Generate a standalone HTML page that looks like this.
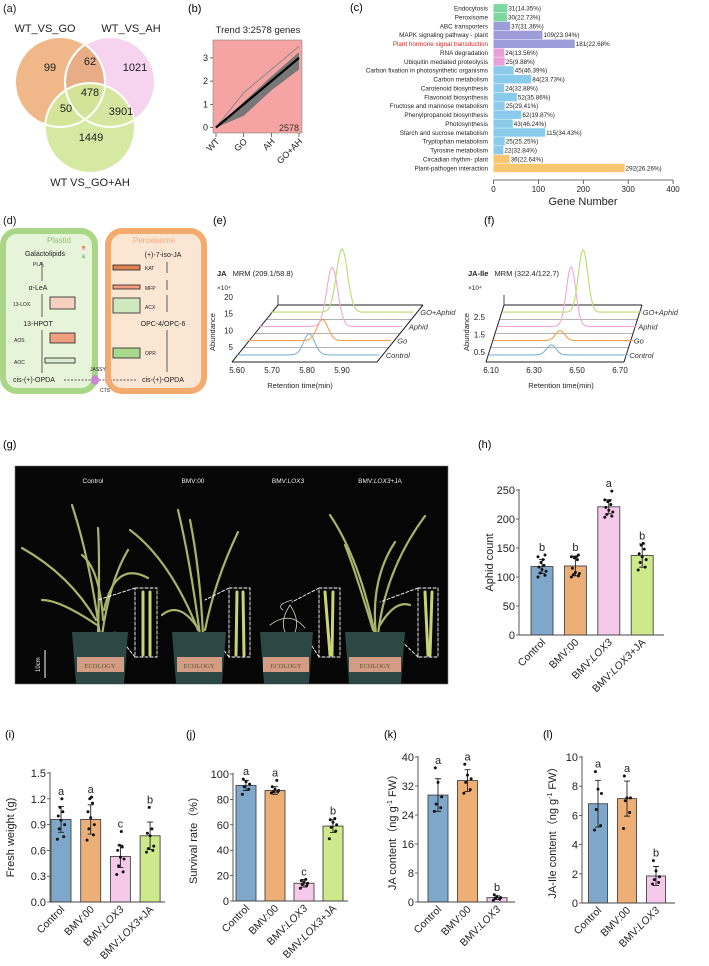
<!DOCTYPE html>
<html><head><meta charset="utf-8"><style>
html,body{margin:0;padding:0;background:#fff;}
svg{display:block;font-family:"Liberation Sans",Arial,sans-serif;}
</style></head><body>
<svg id="fig" width="709" height="966" viewBox="0 0 709 966" xmlns="http://www.w3.org/2000/svg">
<!-- (a) Venn -->
<g font-size="11" fill="#222">
<text x="3" y="12">(a)</text>
<circle cx="60" cy="82" r="45" fill="#f0b788"/>
<circle cx="110" cy="82" r="45" fill="#f4cdec" fill-opacity="0.85" stroke="#fff" stroke-width="2"/>
<path d="M85,44.6 A45,45 0 0 1 85,119.4 A45,45 0 0 1 85,44.6Z" fill="#e7ad86" stroke="#fff" stroke-width="2"/>
<circle cx="90" cy="128" r="45" fill="#d2e79a" fill-opacity="0.92" stroke="#fff" stroke-width="2"/>
<circle cx="60" cy="82" r="45" fill="none" stroke="#fff" stroke-width="2"/>
<circle cx="110" cy="82" r="45" fill="none" stroke="#fff" stroke-width="2"/>
<text x="50" y="71" text-anchor="middle">99</text>
<text x="90" y="65" text-anchor="middle">62</text>
<text x="135" y="71" text-anchor="middle">1021</text>
<text x="90" y="96" text-anchor="middle">478</text>
<text x="66" y="112" text-anchor="middle">50</text>
<text x="121" y="115" text-anchor="middle">3901</text>
<text x="91" y="141" text-anchor="middle">1449</text>
<text x="45" y="32" text-anchor="middle">WT_VS_GO</text>
<text x="131" y="32" text-anchor="middle">WT_VS_AH</text>
<text x="90" y="186" text-anchor="middle">WT VS_GO+AH</text>
</g>
<text x="188" y="12" font-size="11">(b)</text>
<text x="350" y="11" font-size="11">(c)</text>

<!-- (d) pathway -->
<g font-size="6.5" fill="#222">
<text x="3" y="224" font-size="11">(d)</text>
<rect x="3" y="231" width="92" height="160" rx="14" fill="#e6f4da" stroke="#a9d786" stroke-width="6"/>
<rect x="108" y="231" width="96" height="160" rx="14" fill="#fbe5d3" stroke="#f2ab6c" stroke-width="6"/>
<text x="59" y="243" font-size="8" fill="#8cc46a" text-anchor="middle">Plastid</text>
<text x="154" y="243" font-size="8" fill="#f5a878" text-anchor="middle">Peroxisome</text>
<rect x="82" y="246" width="3" height="12" fill="url(#lg)"/>
<defs><linearGradient id="lg" x1="0" y1="0" x2="0" y2="1"><stop offset="0" stop-color="#e8704a"/><stop offset="0.5" stop-color="#fff"/><stop offset="1" stop-color="#7cc26a"/></linearGradient></defs>
<text x="45" y="256" font-size="7" text-anchor="middle">Galactolipids</text>
<text x="33" y="266" font-size="5">PLA₁</text>
<text x="38" y="290" font-size="7" text-anchor="middle">α-LeA</text>
<text x="13" y="306" font-size="5">13-LOX</text>
<text x="38" y="326" font-size="7" text-anchor="middle">13-HPOT</text>
<text x="14" y="342" font-size="5">AOS</text>
<text x="14" y="364" font-size="5">AOC</text>
<text x="34" y="382" font-size="7" text-anchor="middle">cis-(+)-OPDA</text>
<text x="163" y="257" font-size="7" text-anchor="middle">(+)-7-iso-JA</text>
<text x="145" y="270" font-size="5">KAT</text>
<text x="145" y="290" font-size="5">MFP</text>
<text x="145" y="309" font-size="5">ACX</text>
<text x="163" y="326" font-size="7" text-anchor="middle">OPC-4/OPC-6</text>
<text x="145" y="355" font-size="5">OPR</text>
<text x="163" y="382" font-size="7" text-anchor="middle">cis-(+)-OPDA</text>
<text x="90" y="371" font-size="5">JASSY</text>
<text x="100" y="392" font-size="5">CTS</text>
<g stroke="#222" stroke-width="0.7">
<line x1="42" y1="262" x2="42" y2="281"/><line x1="42" y1="294" x2="42" y2="317"/><line x1="42" y1="330" x2="42" y2="373"/>
<line x1="167" y1="312" x2="167" y2="295"/><line x1="167" y1="290" x2="167" y2="280"/><line x1="167" y1="273" x2="167" y2="262"/><line x1="167" y1="372" x2="167" y2="330"/>
<line x1="64" y1="380" x2="136" y2="380" stroke-dasharray="2,1.5"/>
</g>
<ellipse cx="95" cy="380" rx="4" ry="5" fill="#c987d8"/>
<ellipse cx="108" cy="380" rx="3" ry="5" fill="#f3a97a"/>
<g stroke="#222" stroke-width="0.8">
<rect x="50" y="297" width="25" height="12" fill="#f6d0c0"/>
<rect x="50" y="333" width="25" height="10" fill="#ee9f82"/>
<rect x="45" y="358" width="30" height="5" fill="#d9ecd0"/>
<rect x="113" y="265" width="27" height="5" fill="#e08050"/>
<rect x="113" y="285" width="27" height="4" fill="#f0a080"/>
<rect x="113" y="298" width="27" height="15" fill="#cfe8c0"/>
<rect x="113" y="348" width="27" height="10" fill="#a9d88f"/>
</g>
</g>

<text x="213" y="224" font-size="11">(e)</text>
<text x="484" y="224" font-size="11">(f)</text>
<text x="3" y="448" font-size="11">(g)</text>
<text x="478" y="448" font-size="11">(h)</text>
<text x="5" y="738" font-size="11">(i)</text>
<text x="186" y="738" font-size="11">(j)</text>
<text x="384" y="738" font-size="11">(k)</text>
<text x="543" y="738" font-size="11">(l)</text>

<!-- (g) photo -->
<g>
<rect x="15" y="466" width="433" height="218" fill="#060606" stroke="#777" stroke-width="0.6"/>
<g font-size="6.5" fill="#eee" text-anchor="middle">
<text x="93" y="483">Control</text>
<text x="193" y="483">BMV:00</text>
<text x="288" y="483">BMV:<tspan font-style="italic">LOX3</tspan></text>
<text x="380" y="483">BMV:<tspan font-style="italic">LOX3</tspan>+JA</text>
</g>
<g fill="none" stroke-linecap="round">
<g stroke="#a9b46a" stroke-width="2.2">
<path d="M100,635 Q90,560 72,505"/><path d="M98,635 Q100,560 98,528"/><path d="M102,635 Q110,580 128,550"/><path d="M96,620 Q70,575 22,548"/><path d="M104,610 Q115,560 148,578"/><path d="M97,625 Q60,600 42,600"/><path d="M103,620 Q100,570 82,555"/>
<path d="M200,635 Q190,560 178,510"/><path d="M203,635 Q200,570 190,520"/><path d="M198,630 Q170,560 130,530"/><path d="M205,630 Q215,580 238,532"/><path d="M199,630 Q180,600 162,615"/>
<path d="M375,635 Q360,560 330,515"/><path d="M378,635 Q385,570 425,516"/><path d="M373,630 Q355,570 345,545"/><path d="M380,625 Q395,600 410,605"/><path d="M376,635 Q370,580 395,542"/>
</g>
<g stroke="#c8c7b4" stroke-width="0.9"><path d="M285,632 Q280,620 290,605 Q300,620 295,632"/><path d="M270,625 Q290,610 305,628"/><path d="M283,610 Q275,605 292,600"/></g>
<g stroke="#fff" stroke-width="0.9" stroke-dasharray="3,2">
<rect x="135" y="588" width="22" height="69"/><rect x="229" y="588" width="21" height="69"/><rect x="319" y="588" width="21" height="69"/><rect x="418" y="588" width="20" height="69"/>
<path d="M135,588 L98,600 M135,657 L115,632"/><path d="M229,588 L205,600 M229,657 L212,635"/><path d="M319,588 L292,602 M319,657 L305,635"/><path d="M418,588 L380,602 M418,657 L395,635"/>
</g>
<g stroke="#c9d476" stroke-width="3"><path d="M143,592 L143,655"/><path d="M150,592 L150,655"/><path d="M237,592 L236,655"/><path d="M243,592 L244,655"/><path d="M325,592 L330,655"/><path d="M333,592 L332,655"/><path d="M425,592 L428,655"/><path d="M432,592 L430,655"/></g>
</g>
<g fill="#2c4744">
<path d="M72,632 L128,632 L124,684 L76,684Z"/><path d="M172,632 L226,632 L222,684 L176,684Z"/><path d="M260,632 L313,632 L309,684 L264,684Z"/><path d="M345,632 L405,632 L401,684 L349,684Z"/>
</g>
<g fill="#d59c84"><rect x="77" y="657" width="47" height="15"/><rect x="177" y="657" width="45" height="15"/><rect x="263" y="657" width="46" height="15"/><rect x="349" y="657" width="52" height="15"/></g>
<g font-size="6.5" fill="#553" text-anchor="middle" font-family="Liberation Serif, serif"><text x="100" y="668">ECOLOGY</text><text x="199" y="668">ECOLOGY</text><text x="286" y="668">ECOLOGY</text><text x="375" y="668">ECOLOGY</text></g>
<line x1="45" y1="650" x2="45" y2="678" stroke="#fff" stroke-width="1"/>
<text transform="translate(40,672) rotate(-90)" font-size="6" fill="#fff">10cm</text>
</g>
</svg>
<script>
// ---------- data ----------
const bCats=['WT','GO','AH','GO+AH'];
const bMean=[0,1,2,3];
const bUpperLine=[0,1.5,2.5,3.5];
const bBandLow=[0,0.5,1.6,2.5];
const bBandHigh=[0,1.1,2.2,3.25];
const bTicks=[0,1,2,3];

const cCats=['Endocytosis','Peroxisome','ABC transporters','MAPK signaling pathway - plant','Plant hormone signal transduction','RNA degradation','Ubiquitin mediated proteolysis','Carbon fixation in photosynthetic organisms','Carbon metabolism','Carotenoid biosynthesis','Flavonoid biosynthesis','Fructose and mannose metabolism','Phenylpropanoid biosynthesis','Photosynthesis','Starch and sucrose metabolism','Tryptophan metabolism','Tyrosine metabolism','Circadian rhythm- plant','Plant-pathogen interaction'];
const cVals=[31,30,37,109,181,24,25,45,84,24,52,25,62,43,115,25,22,36,292];
const cPct=['(14.35%)','(22.73%)','(31.36%)','(23.04%)','(22.68%','(13.56%)','(9.88%)','(46.39%)','(23.73%)','(32.88%)','(35.86%)','(29.41%)','(19.87%)','(46.24%)','(34.43%)','(25.25%)','(32.84%)','(22.64%)','(26.26%)'];
const cGroup=[0,0,1,1,1,2,2,3,3,3,3,3,3,3,3,3,3,4,4];
const cTicks=[0,100,200,300,400];

const eSeries=['Control','Go','Aphid','GO+Aphid'];
const ePeakTime=[5.79,5.795,5.79,5.785];
const ePeakHeight=[6.3,6.3,17.7,19];
const eTicks=[5.60,5.70,5.80,5.90];
const eYTicks=[5,10,15,20];
const fPeakTime=[6.37,6.39,6.42,6.455];
const fPeakHeight=[0.57,0.57,3.4,3.55];
const fTicks=[6.10,6.30,6.50,6.70];
const fYTicks=[0.5,1.5,2.5];

const cats4=['Control','BMV:00','BMV:LOX3','BMV:LOX3+JA'];
const cats3=['Control','BMV:00','BMV:LOX3'];
const hVals=[118,119,221,137];
const hErr=[12,17,12,20];
const hLetters=['b','b','a','b'];
const hDots=[[100,103,107,110,113,117,120,125,130,135,138],[100,102,104,106,108,115,130,133,135,135,138],[203,205,208,212,215,220,225,230,232,233,248],[112,117,125,130,135,140,148,155,158]];
const hTicks=[0,50,100,150,200,250];
const iVals=[0.96,0.96,0.53,0.77];
const iErr=[0.15,0.17,0.13,0.16];
const iLetters=['a','a','c','b'];
const iDots=[[0.73,0.76,0.85,0.9,0.95,1.0,1.05,1.1,1.2],[0.72,0.78,0.85,0.9,0.98,1.05,1.15,1.2,1.22],[0.32,0.35,0.42,0.5,0.52,0.6,0.64,0.66,0.82],[0.58,0.6,0.62,0.65,0.77,0.8,0.85,1.1]];
const iTicks=[0,0.3,0.6,0.9,1.2,1.5];
const jVals=[91,87,14,59];
const jErr=[4,3,3,5];
const jLetters=['a','a','c','b'];
const jDots=[[84,88,90,92,94,96],[85,86,86,87,88,90,95],[10,12,13,14,15,16,17],[49,55,58,60,62,64,65]];
const jTicks=[0,20,40,60,80,100];
const kVals=[29.5,33.5,1.2];
const kErr=[4.5,3,0.5];
const kLetters=['a','a','b'];
const kDots=[[25,26,27,29,33,37],[30,31,33,34,35,38],[0.5,0.8,1.0,1.2,1.5,2]];
const kTicks=[0,8,16,24,32,40];
const lVals=[6.8,7.15,1.85];
const lErr=[1.6,1.2,0.65];
const lLetters=['a','a','b'];
const lDots=[[5.0,5.3,6.4,7.5,7.8,9.0],[5.1,6.2,7.0,7.2,7.2,8.7],[1.3,1.4,1.6,1.8,2.2,2.9]];
const lTicks=[0,2,4,6,8,10];

// ---------- helpers ----------
const NS='http://www.w3.org/2000/svg';
const svg=document.getElementById('fig');
function mk(tag,attrs,parent,text){const e=document.createElementNS(NS,tag);for(const k in attrs)e.setAttribute(k,attrs[k]);if(text!==undefined)e.textContent=text;(parent||svg).appendChild(e);return e;}
function catLabel(el,name){const m=name.match(/^(BMV:)(LOX3)(.*)$/);if(!m){el.textContent=name;return;}mk('tspan',{},el,m[1]);mk('tspan',{'font-style':'italic'},el,m[2]);if(m[3])mk('tspan',{},el,m[3]);}

// ---------- (b) trend ----------
(function(){
  const g=mk('g',{});
  
  
  const L=213,R=302,T=40,B=133;
  const xs=i=>216+i*(299-216)/(bCats.length-1);
  const ys=v=>127.5-v*23.2;
  const bg=mk('rect',{x:L,y:T,width:R-L,height:B-T,fill:'#f5a3a3',stroke:'#888','stroke-width':0.6},g);
  
  
  const tt=mk('text',{x:258,y:33,'font-size':9.5,'text-anchor':'middle',fill:'#222'},g,'Trend 3:2578 genes');
  
  
  let band='';bBandHigh.forEach((v,i)=>band+=(i?'L':'M')+xs(i)+','+ys(v));
  for(let i=bBandLow.length-1;i>=0;i--)band+='L'+xs(i)+','+ys(bBandLow[i]);
  const bd=mk('path',{d:band+'Z',fill:'#777'},g);
  
  
  const ul=mk('polyline',{points:bUpperLine.map((v,i)=>xs(i)+','+ys(v)).join(' '),fill:'none',stroke:'#888','stroke-width':1},g);
  
  
  const ml=mk('polyline',{points:bMean.map((v,i)=>xs(i)+','+ys(v)).join(' '),fill:'none',stroke:'#000','stroke-width':2.2},g);
  
  
  const cnt=mk('text',{x:299,y:131,'font-size':9,'text-anchor':'end',fill:'#333'},g,'2578');
  
  
  bTicks.forEach(v=>{mk('line',{x1:L-3,x2:L,y1:ys(v),y2:ys(v),stroke:'#333','stroke-width':0.7},g);
    const t=mk('text',{x:L-5,y:ys(v)+3,'font-size':9,'text-anchor':'end',fill:'#222'},g,String(v));
    
    });
  bCats.forEach((c,i)=>{mk('line',{x1:xs(i),x2:xs(i),y1:B,y2:B+4,stroke:'#333','stroke-width':0.7},g);
    const t=mk('text',{transform:`translate(${xs(i)+4},${B+9}) rotate(-45)`,'font-size':9,'text-anchor':'end',fill:'#222'},g,c);
    
    });
})();

// ---------- (c) KEGG bars ----------
(function(){
  const cols=['#7fd7a0','#9d9ddc','#e8a0dc','#8acbeb','#f8c66e'];
  const g=mk('g',{});
  
  
  const x0=493.5,xs=v=>x0+v*0.449;
  const yr=i=>8.3+i*8.87;
  cCats.forEach((c,i)=>{
    const r=mk('rect',{x:x0,y:yr(i)-4.2,width:xs(cVals[i])-x0,height:8.4,fill:cols[cGroup[i]]},g);
    
    
    const lb=mk('text',{x:488,y:yr(i)+2.3,'font-size':6.3,'text-anchor':'end',fill:i===4?'#e02020':'#222'},g,c);
    
    
    const vl=mk('text',{x:xs(cVals[i])+1,y:yr(i)+2.3,'font-size':6.3,fill:'#222'},g,cVals[i]+cPct[i]);
    
    
  });
  mk('line',{x1:x0,x2:xs(400),y1:180,y2:180,stroke:'#444','stroke-width':0.8},g);
  cTicks.forEach(v=>{mk('line',{x1:xs(v),x2:xs(v),y1:180,y2:184,stroke:'#444','stroke-width':0.8},g);
    const t=mk('text',{x:xs(v),y:192,'font-size':8,'text-anchor':'middle',fill:'#222'},g,String(v));
    
    });
  const at=mk('text',{x:583,y:205,'font-size':11,'text-anchor':'middle',fill:'#222'},g,'Gene Number');
  
  
})();

// ---------- (e)/(f) chromatograms ----------
function chrom(p){
  const cols=['#7fb3d5','#f0a050','#f2a8d2','#b9dc72'];
  const g=mk('g',{});
  
  
  const fx=t=>p.fx0+(t-p.t0)*p.pxPerMin; // front x
  const depth=(f)=>({dx:f*p.skewX,dy:-f*p.skewY});
  // grid lines / floor
  [0,0.25,0.5,0.75,1].forEach(f=>{const d=depth(f);
    mk('line',{x1:p.fx0-5+d.dx,x2:p.fxEnd+d.dx,y1:p.fy+d.dy,y2:p.fy+d.dy,stroke:f===0||f===1?'#222':'#666','stroke-width':f===0||f===1?1:0.6},g);});
  const d1=depth(1);
  mk('line',{x1:p.fx0-5,y1:p.fy,x2:p.fx0-5+d1.dx,y2:p.fy+d1.dy,stroke:'#222','stroke-width':1},g);
  mk('line',{x1:p.fxEnd,y1:p.fy,x2:p.fxEnd+d1.dx,y2:p.fy+d1.dy,stroke:'#222','stroke-width':1},g);
  mk('line',{x1:p.fx0-5+d1.dx,y1:p.fy+d1.dy,x2:p.fx0-5+d1.dx,y2:p.fy+d1.dy-10,stroke:'#222','stroke-width':0.8},g);
  eSeries.forEach((s,i)=>{
    const d=depth((i+0.5)/4);
    let pts=[];
    for(let t=p.t0-0.02;t<=p.tEnd;t+=0.002){
      const v=p.heights[i]*Math.exp(-Math.pow((t-p.peaks[i])/p.sigma,2)/2);
      pts.push((fx(t)+d.dx).toFixed(1)+','+(p.fy+d.dy-v*p.pxPerUnit).toFixed(1));
    }
    const pl=mk('polyline',{points:pts.join(' '),fill:'none',stroke:cols[i],'stroke-width':1.1},g);
    
    
    const lb=mk('text',{x:p.fxEnd+d.dx+3,y:p.fy+d.dy+3,'font-size':7.5,'font-style':'italic',fill:'#333'},g,s);
    
    
  });
  p.xticks.forEach(t=>{const tx=mk('text',{x:fx(t),y:p.fy+11,'font-size':8,'text-anchor':'middle',fill:'#222'},g,t.toFixed(2));
    
    });
  p.yticks.forEach(v=>{const yy=p.yTick0-(v-p.yticks[0])*p.yTickPx;const tx=mk('text',{x:p.yTickX,y:yy+3,'font-size':8,'text-anchor':'end',fill:'#222'},g,String(v));
    
    });
  const xt=mk('text',{x:p.xTitleX,y:p.fy+26,'font-size':7.5,'text-anchor':'middle',fill:'#222'},g,'Retention time(min)');
  
  
  const yt=mk('text',{transform:`translate(${p.yTitleX},${p.fy-30}) rotate(-90)`,'font-size':7.5,'text-anchor':'middle',fill:'#222'},g,'Abundance');
  
  
  const tt=mk('text',{x:p.titleX,y:276,'font-size':7.5,fill:'#222'},g);
  mk('tspan',{'font-weight':'bold'},tt,p.compound);
  mk('tspan',{dx:6},tt,p.mrm);
  
  
  const ex=mk('text',{x:p.titleX,y:290,'font-size':6.5,fill:'#222'},g,'×10⁴');
  
  
}
chrom({name:'ja-chromatogram',t0:5.60,tEnd:5.99,fx0:237,fxEnd:377,pxPerMin:350,fy:362,skewX:46,skewY:57,peaks:ePeakTime,heights:ePeakHeight,sigma:0.016,pxPerUnit:3.33,xticks:eTicks,yticks:eYTicks,yTick0:347,yTickPx:3.33,yTickX:233,xTitleX:300,yTitleX:215,titleX:217,compound:'JA',mrm:'MRM (209.1/58.8)'});
chrom({name:'ja-ile-chromatogram',t0:6.10,tEnd:6.73,fx0:491,fxEnd:624,pxPerMin:215,fy:362,skewX:18,skewY:57,peaks:fPeakTime,heights:fPeakHeight,sigma:0.022,pxPerUnit:17.5,xticks:fTicks,yticks:fYTicks,yTick0:352,yTickPx:17.5,yTickX:485,xTitleX:561,yTitleX:469,titleX:468,compound:'JA-Ile',mrm:'MRM (322.4/122.7)'});

// ---------- bar charts ----------
const barCols=['#7fa7c9','#eeaf76','#f5c9ea','#cde98c'];
const jit=[-4,3,-2,4,0,-3,2,-1,1,-4,3];
function barChart(p){
  const g=mk('g',{});
  
  
  const ys=v=>p.y0-(v/p.vmax)*(p.y0-p.y1);
  p.cats.forEach((c,i)=>{
    const cx=p.c0+i*p.step;
    const r=mk('rect',{x:cx-p.w/2,y:ys(p.vals[i]),width:p.w,height:p.y0-ys(p.vals[i]),fill:barCols[i],stroke:'#444','stroke-width':0.9},g);
    
    
    const e1=ys(p.vals[i]+p.errs[i]),e2=ys(Math.max(0,p.vals[i]-p.errs[i]));
    const eb=mk('path',{d:`M${cx},${e1}L${cx},${e2}M${cx-3},${e1}L${cx+3},${e1}M${cx-3},${e2}L${cx+3},${e2}`,stroke:'#222','stroke-width':0.9,fill:'none'},g);
    
    
    let top=e1;
    p.dots[i].forEach((v,k)=>{const dy=ys(v);top=Math.min(top,dy);
      const d=mk('circle',{cx:cx+jit[k%jit.length]*p.w/22,cy:dy,r:1.5,fill:'#111'},g);
      
      });
    const lt=mk('text',{x:cx,y:top-4,'font-size':11,'text-anchor':'middle',fill:'#222'},g,p.letters[i]);
    
    
    const xl=mk('text',{transform:`translate(${cx+4},${p.y0+8}) rotate(-45)`,'font-size':10.5,'text-anchor':'end',fill:'#222'},g);
    catLabel(xl,c);
    
    
  });
  mk('line',{x1:p.ax,x2:p.ax,y1:p.y1-1,y2:p.y0,stroke:'#444','stroke-width':0.9},g);
  mk('line',{x1:p.ax,x2:p.xEnd,y1:p.y0,y2:p.y0,stroke:'#444','stroke-width':0.9},g);
  p.ticks.forEach(v=>{mk('line',{x1:p.ax-3,x2:p.ax,y1:ys(v),y2:ys(v),stroke:'#444','stroke-width':0.8},g);
    const t=mk('text',{x:p.ax-4,y:ys(v)+4,'font-size':11,'text-anchor':'end',fill:'#222'},g,p.fmt(v));
    
    });
  const yl=mk('text',{transform:`translate(${p.ylx},${(p.y0+p.y1)/2}) rotate(-90)`,'font-size':11,'text-anchor':'middle',fill:'#222'},g);
  p.ylab.forEach(s=>{const ts=mk('tspan',s.sup?{'font-size':7,dy:-4}:(s.after?{dy:4}:{}),yl,s.t);});
  
  
}
barChart({name:'aphid-count-chart',cats:cats4,vals:hVals,errs:hErr,letters:hLetters,dots:hDots,ticks:hTicks,fmt:v=>String(v),vmax:250,ax:519,y0:635,y1:490,xEnd:664,c0:542,step:33.4,w:22,ylx:493,ylab:[{t:'Aphid count'}]});
barChart({name:'fresh-weight-chart',cats:cats4,vals:iVals,errs:iErr,letters:iLetters,dots:iDots,ticks:iTicks,fmt:v=>v.toFixed(1),vmax:1.5,ax:50,y0:902,y1:773,xEnd:165,c0:61,step:29.7,w:20,ylx:14,ylab:[{t:'Fresh weight (g)'}]});
barChart({name:'survival-rate-chart',cats:cats4,vals:jVals,errs:jErr,letters:jLetters,dots:jDots,ticks:jTicks,fmt:v=>String(v),vmax:100,ax:233,y0:901,y1:774,xEnd:348,c0:246,step:29,w:20,ylx:197,ylab:[{t:'Survival rate（%）'}]});
barChart({name:'ja-content-chart',cats:cats3,vals:kVals,errs:kErr,letters:kLetters,dots:kDots,ticks:kTicks,fmt:v=>String(v),vmax:40,ax:418,y0:902,y1:757,xEnd:515,c0:438,step:29.5,w:20,ylx:396,ylab:[{t:'JA content（ng g'},{t:'-1',sup:true},{t:' FW）',after:true}]});
barChart({name:'ja-ile-content-chart',cats:cats3,vals:lVals,errs:lErr,letters:lLetters,dots:lDots,ticks:lTicks,fmt:v=>String(v),vmax:10,ax:582,y0:903,y1:757,xEnd:675,c0:598,step:29,w:19,ylx:556,ylab:[{t:'JA-Ile content（ng g'},{t:'-1',sup:true},{t:' FW）',after:true}]});
</script>
</body></html>
